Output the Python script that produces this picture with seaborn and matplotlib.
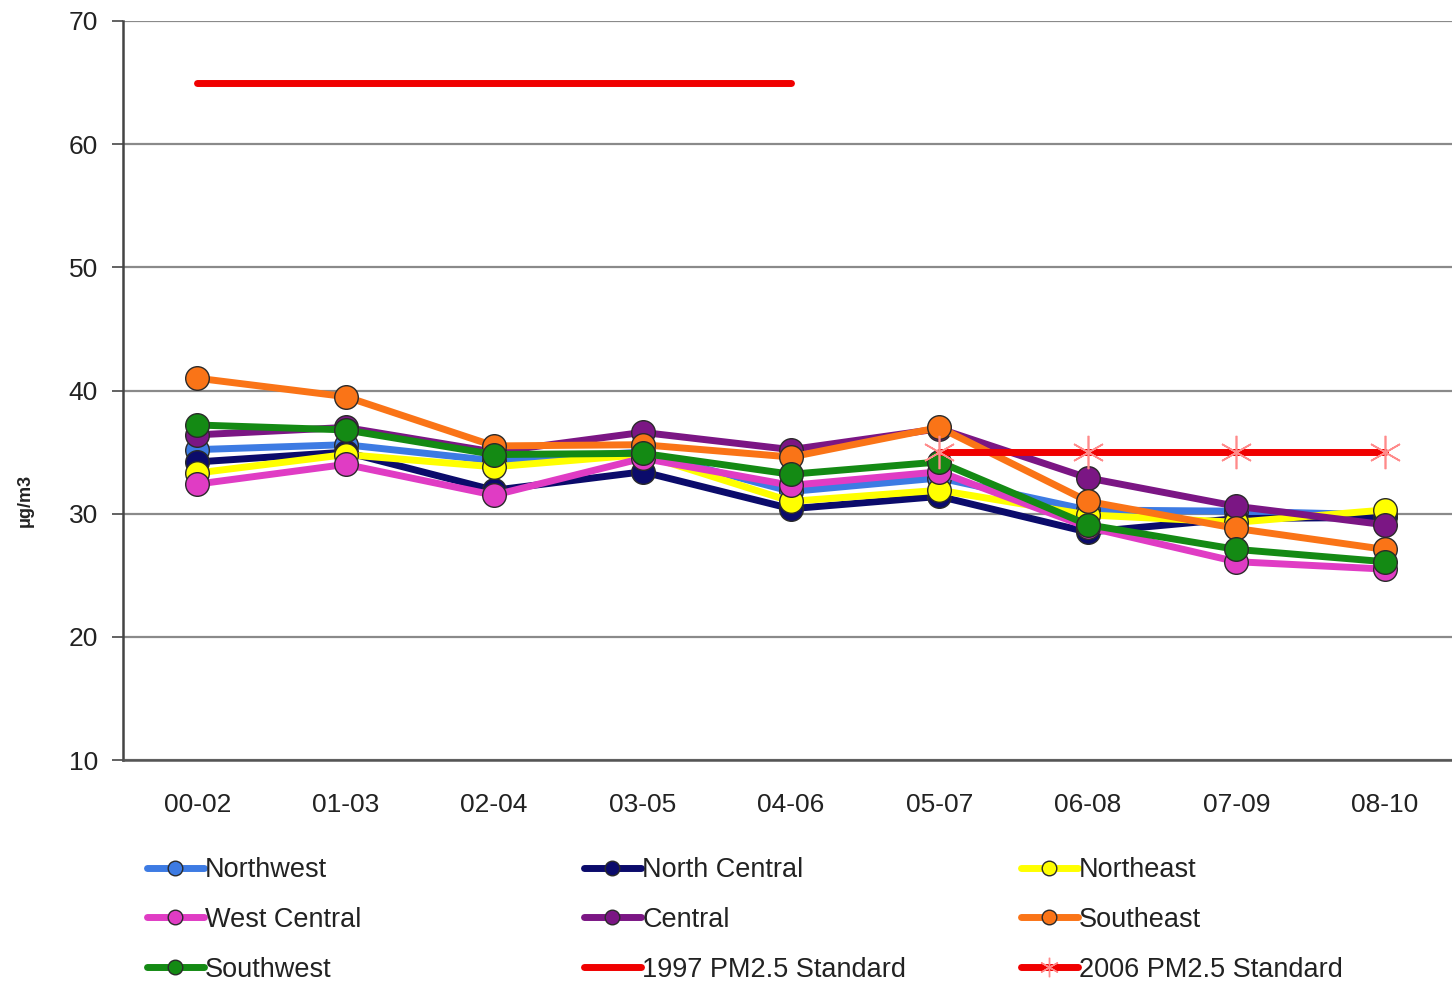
import pandas as pd
import seaborn as sns
import matplotlib.pyplot as plt
from matplotlib.lines import Line2D
from matplotlib.ticker import FixedLocator

# Периоды (трёхлетние средние)
periods = ['00-02', '01-03', '02-04', '03-05', '04-06', '05-07', '06-08', '07-09', '08-10']

# Значения по регионам, мкг/м3
northwest = [35.2, 35.6, 34.3, 35.0, 31.8, 32.9, 30.3, 30.2, 29.9]
north_central = [34.2, 35.0, 31.9, 33.4, 30.4, 31.4, 28.5, 29.6, 29.7]
northeast = [33.3, 34.8, 33.8, 34.8, 31.0, 31.9, 29.9, 29.3, 30.3]
west_central = [32.4, 34.0, 31.5, 34.5, 32.3, 33.4, 28.9, 26.1, 25.5]
central = [36.4, 37.0, 35.0, 36.6, 35.2, 36.9, 32.9, 30.6, 29.1]
southeast = [41.0, 39.5, 35.5, 35.6, 34.6, 37.0, 31.0, 28.8, 27.1]
southwest = [37.2, 36.8, 34.8, 34.9, 33.2, 34.2, 29.1, 27.1, 26.1]

std_1997_periods = periods[:5]
std_1997 = [65, 65, 65, 65, 65]
std_2006_periods = periods[5:]
std_2006 = [35, 35, 35, 35]

regions = ['Northwest', 'North Central', 'Northeast', 'West Central',
           'Central', 'Southeast', 'Southwest']
values = [northwest, north_central, northeast, west_central,
          central, southeast, southwest]
colors = {
    'Northwest': '#3D7BE3',
    'North Central': '#0B0B6B',
    'Northeast': '#FFFF00',
    'West Central': '#E03CC4',
    'Central': '#7B1684',
    'Southeast': '#FA7417',
    'Southwest': '#148A14',
}
red = '#F00000'
LW = 5.0

rows = []
for reg, vals in zip(regions, values):
    for p, v in zip(periods, vals):
        rows.append({'period': p, 'value': v, 'region': reg})
df = pd.DataFrame(rows)

df97 = pd.DataFrame({'period': std_1997_periods, 'value': std_1997})
df06 = pd.DataFrame({'period': std_2006_periods, 'value': std_2006})

sns.set_style('white')
plt.rcParams['font.family'] = ['Liberation Sans', 'DejaVu Sans']

fig = plt.figure(figsize=(14.52, 9.82), dpi=100)
ax = fig.add_axes([123 / 1452, 1 - 760 / 982, (1459 - 123) / 1452, (760 - 21) / 982])

sns.lineplot(data=df, x='period', y='value', hue='region', hue_order=regions,
             palette=colors, marker='o', markersize=17, markeredgecolor='#2a2a2a',
             markeredgewidth=1.0, linewidth=LW, legend=False, ax=ax, zorder=3)
sns.lineplot(data=df97, x='period', y='value', color=red, linewidth=LW,
             legend=False, ax=ax, zorder=4)
sns.lineplot(data=df06, x='period', y='value', color=red, linewidth=LW,
             marker=(6, 2, 0), markersize=24, markeredgecolor='#FF8A8A',
             markeredgewidth=1.2, legend=False, ax=ax, zorder=4)

ax.set_xlim(-0.5, len(periods) - 0.5)
ax.set_ylim(10, 70)
ax.set_yticks(range(10, 71, 10))
ax.yaxis.grid(True, color='#8a8a8a', linewidth=1.6)
ax.set_axisbelow(True)
ax.xaxis.set_minor_locator(FixedLocator([i - 0.5 for i in range(len(periods) + 1)]))
ax.tick_params(axis='x', which='major', length=0, pad=24, labelsize=19, labelcolor='#222222')
ax.tick_params(axis='x', which='minor', length=8, width=1.3, color='#555555', direction='out')
ax.tick_params(axis='y', length=8, width=1.3, color='#555555', direction='out',
               pad=10, labelsize=19, labelcolor='#222222', left=True)
for s in ['top', 'right']:
    ax.spines[s].set_visible(False)
ax.spines['left'].set_color('#444444')
ax.spines['left'].set_linewidth(1.8)
ax.spines['bottom'].set_color('#555555')
ax.spines['bottom'].set_linewidth(1.8)
ax.set_xlabel('')
ax.set_ylabel('')
fig.text(25 / 1452, 1 - 500 / 982, 'μg/m3', rotation=90, ha='center', va='center',
         fontsize=13, fontweight='bold', color='#222222')

# Легенда в три колонки, как в оригинале
def handle(reg):
    return Line2D([], [], color=colors[reg], linewidth=LW, marker='o', markersize=10.5,
                  markerfacecolor=colors[reg], markeredgecolor='#2a2a2a', markeredgewidth=1.0)

h97 = Line2D([], [], color=red, linewidth=LW)
h06 = Line2D([], [], color=red, linewidth=LW, marker=(6, 2, 0), markersize=14,
             markeredgecolor='#FF8A8A', markeredgewidth=1.0)

columns = [
    ([handle('Northwest'), handle('West Central'), handle('Southwest')],
     ['Northwest', 'West Central', 'Southwest'], 147),
    ([handle('North Central'), handle('Central'), h97],
     ['North Central', 'Central', '1997 PM2.5 Standard'], 584),
    ([handle('Northeast'), handle('Southeast'), h06],
     ['Northeast', 'Southeast', '2006 PM2.5 Standard'], 1021),
]
for hs, ls, x0 in columns:
    fig.legend(hs, ls, loc='upper left', bbox_to_anchor=(x0 / 1452, 1 - 857 / 982),
               frameon=False, fontsize=19.5, handlelength=2.1, handletextpad=0.05,
               borderpad=0, borderaxespad=0, labelspacing=0.88, numpoints=1,
               labelcolor='#222222')

fig.savefig('out.png', dpi=100)
